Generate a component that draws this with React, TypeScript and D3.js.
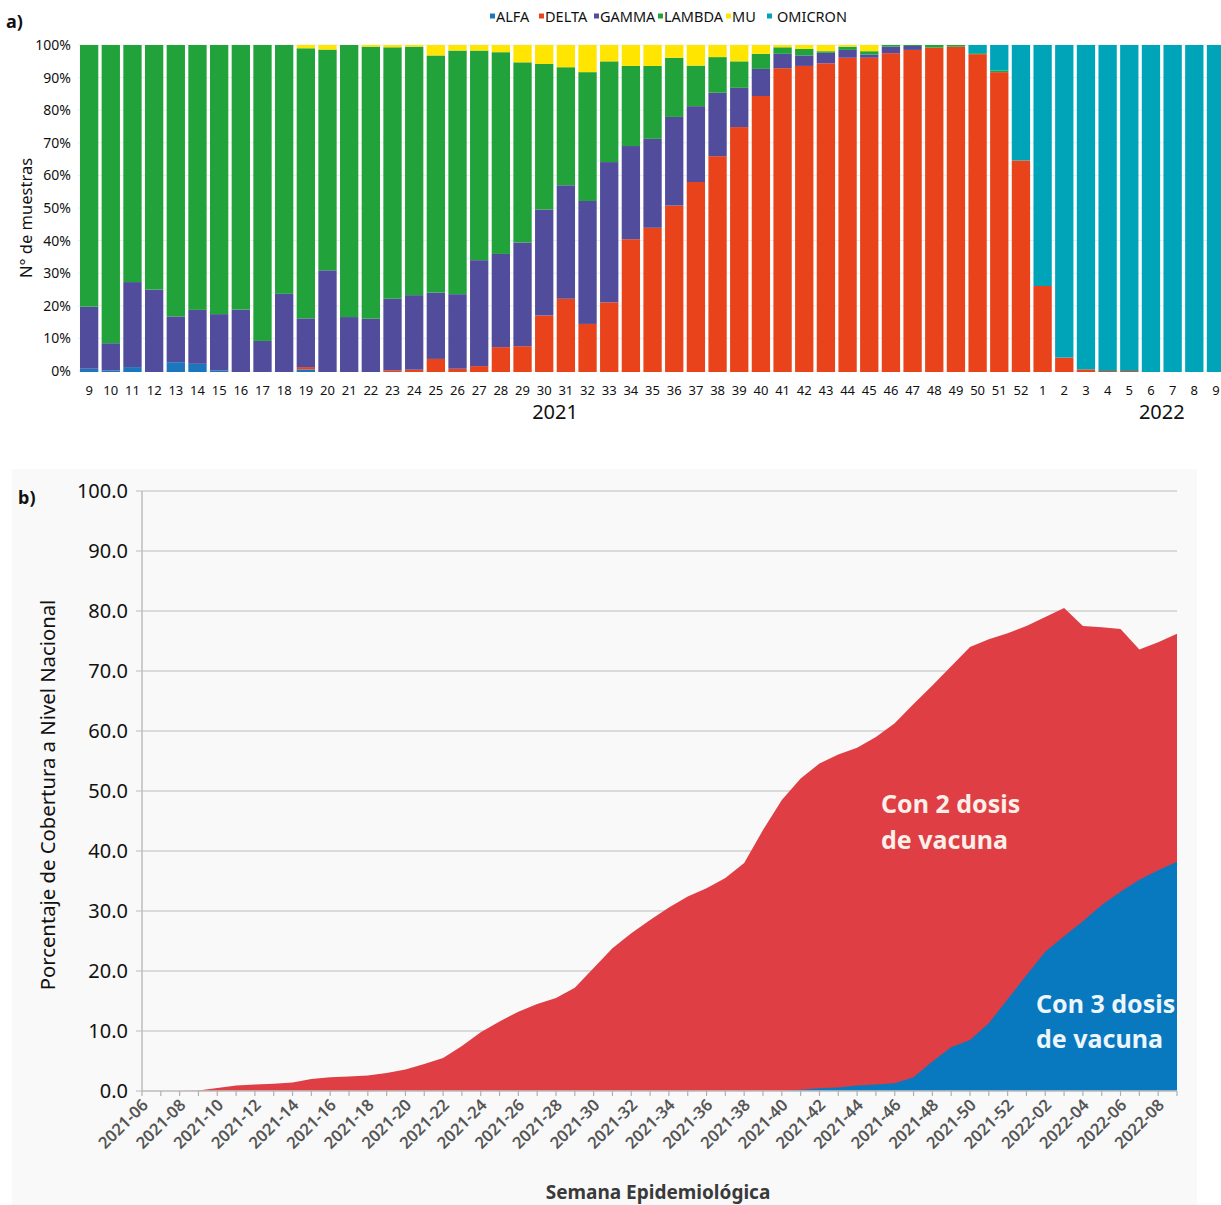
import React from "react";
import * as d3 from "d3";

// ---------- Panel a data ----------
const weekLabelsA = ["9","10","11","12","13","14","15","16","17","18","19","20","21","22","23","24","25","26","27","28","29","30","31","32","33","34","35","36","37","38","39","40","41","42","43","44","45","46","47","48","49","50","51","52","1","2","3","4","5","6","7","8","9"];
const variantKeys = ["ALFA", "DELTA", "GAMMA", "LAMBDA", "MU", "OMICRON"];
const variantColors = ["#1B76BD", "#E8431A", "#524C9C", "#22A23B", "#FFE500", "#00A4B8"];

const alfa = [1,0.5,1.5,0,3,2.5,0.5,0,0,0,0.8,0,0,0,0,0,0,0,0,0,0,0,0,0,0,0,0,0,0,0,0,0,0,0,0,0,0,0,0,0,0,0,0,0,0,0,0,0,0,0,0,0,0];
const delta = [0,0,0,0,0,0,0,0,0,0,0.7,0,0,0,0.5,0.7,4,1,1.8,7.6,7.9,17.3,22.4,14.7,21.3,40.6,44.1,50.9,58.1,66,74.9,84.4,92.9,93.6,94.4,96.1,96.1,97.5,98.5,99.2,99.5,97.2,91.7,64.7,26.3,4.4,0.8,0.3,0.3,0,0,0,0];
const gamma = [19,8.3,26,25.2,14,16.5,17.2,19.1,9.5,23.9,14.9,31.1,16.8,16.3,21.9,22.8,20.3,22.8,32.4,28.5,31.7,32.4,34.7,37.6,42.9,28.5,27.2,27.1,23.2,19.4,12,8.3,4.4,3.2,3.2,2.4,1,2,1.2,0,0,0,0,0,0,0,0,0,0,0,0,0,0];
const lambda = [80,91.2,72.5,74.8,83,81,82.3,80.9,90.5,76.1,82.6,67.5,83.2,83.2,76.9,76,72.5,74.5,64.1,61.7,55.1,44.5,36.1,39.4,30.8,24.5,22.3,18.1,12.4,10.9,8.1,4.6,2,2,0.5,1,1,0.5,0.3,0.8,0.5,0.3,0.5,0,0,0,0,0,0,0,0,0,0];
const mu = [0,0,0,0,0,0,0,0,0,0,1,1.4,0,0.5,0.7,0.5,3.2,1.7,1.7,2.2,5.3,5.8,6.8,8.3,5,6.4,6.4,3.9,6.3,3.7,5,2.7,0.7,1.2,1.9,0.5,1.9,0,0,0,0,0,0,0,0,0,0,0,0,0,0,0,0];
const omicron = [0,0,0,0,0,0,0,0,0,0,0,0,0,0,0,0,0,0,0,0,0,0,0,0,0,0,0,0,0,0,0,0,0,0,0,0,0,0,0,0,0,2.5,7.8,35.3,73.7,95.6,99.2,99.7,99.7,100,100,100,100];
const percentTicksA = [0, 10, 20, 30, 40, 50, 60, 70, 80, 90, 100];
// year label sits between the two bars given by index
const yearLabelsA = [{ label: "2021", between: [21, 22] }, { label: "2022", between: [49, 50] }];

// ---------- Panel b data ----------
const weeksB = ["2021-06","2021-07","2021-08","2021-09","2021-10","2021-11","2021-12","2021-13","2021-14","2021-15","2021-16","2021-17","2021-18","2021-19","2021-20","2021-21","2021-22","2021-23","2021-24","2021-25","2021-26","2021-27","2021-28","2021-29","2021-30","2021-31","2021-32","2021-33","2021-34","2021-35","2021-36","2021-37","2021-38","2021-39","2021-40","2021-41","2021-42","2021-43","2021-44","2021-45","2021-46","2021-47","2021-48","2021-49","2021-50","2021-51","2021-52","2022-01","2022-02","2022-03","2022-04","2022-05","2022-06","2022-07","2022-08","2022-09"];
const dosis2 = [0,0,0,0.1,0.5,0.9,1.1,1.2,1.4,2.0,2.3,2.4,2.6,3.0,3.6,4.5,5.5,7.5,9.8,11.6,13.2,14.5,15.5,17.2,20.5,23.8,26.3,28.5,30.6,32.4,33.8,35.5,38.0,43.5,48.5,52.1,54.6,56.1,57.2,59.0,61.3,64.5,67.6,70.8,74.0,75.3,76.3,77.5,79.0,80.5,77.5,77.3,77.0,73.6,74.8,76.2];
const dosis3 = [null,null,null,null,null,null,null,null,null,null,null,null,null,null,null,null,null,null,null,null,null,null,null,null,null,null,null,null,null,null,null,null,null,null,0,0.2,0.45,0.6,0.9,1.1,1.3,2.3,4.9,7.3,8.5,11.3,15.3,19.3,23.2,25.8,28.3,31,33.2,35.2,36.8,38.2];
const yTicksB = [0, 10, 20, 30, 40, 50, 60, 70, 80, 90, 100];

const FONT = "'Noto Sans', sans-serif";

function PanelA() {
  const rows = weekLabelsA.map((w, i) => ({
    idx: String(i),
    ALFA: alfa[i], DELTA: delta[i], GAMMA: gamma[i], LAMBDA: lambda[i], MU: mu[i], OMICRON: omicron[i],
  }));
  const idxs = rows.map((r) => r.idx);
  const x = d3.scaleBand<string>().domain(idxs).range([78.3, 78.3 + 53 * 21.67]).paddingInner(0.155).paddingOuter(0.0775);
  const y = d3.scaleLinear().domain([0, 1]).range([372, 45]);
  const yp = d3.scaleLinear().domain([0, 100]).range([371, 45]);
  const stack = d3.stack<any>().keys(variantKeys).offset(d3.stackOffsetExpand);
  const series = stack(rows);
  const legendX = [490, 539, 594, 658, 726, 767];
  const legendTextDx = [6, 6, 6, 6, 6, 10];
  const cx = (i: number) => (x(idxs[i]) as number) + x.bandwidth() / 2;
  return (
    <g fontFamily={FONT}>
      <text x={6} y={28} fontSize={18} fontWeight={700} fill="#111">a)</text>
      {variantKeys.map((k, i) => (
        <g key={k}>
          <rect x={legendX[i]} y={13.5} width={5} height={5} fill={variantColors[i]} />
          <text x={legendX[i] + legendTextDx[i]} y={21.5} fontSize={14.5} fill="#111">{k}</text>
        </g>
      ))}
      {percentTicksA.map((t) => (
        <line key={t} x1={78} x2={1221} y1={yp(t)} y2={yp(t)} stroke="#ececec" strokeWidth={1} />
      ))}
      {series.map((s, si) => (
        <g key={s.key} fill={variantColors[si]}>
          {s.map((d, i) => {
            const h = y(d[0]) - y(d[1]);
            if (h <= 0) return null;
            return <rect key={i} x={x(idxs[i])} y={y(d[1])} width={x.bandwidth()} height={h} />;
          })}
        </g>
      ))}
      {percentTicksA.map((t) => (
        <text key={t} x={71} y={yp(t)} dy="0.35em" fontSize={14} textAnchor="end" fill="#111">{t}%</text>
      ))}
      <text transform="translate(32,218) rotate(-90)" fontSize={16.5} textAnchor="middle" fill="#111">N° de muestras</text>
      {weekLabelsA.map((w, i) => (
        <text key={i} x={cx(i)} y={395} fontSize={13} textAnchor="middle" fill="#111">{w}</text>
      ))}
      {yearLabelsA.map((yl) => (
        <text key={yl.label} x={(cx(yl.between[0]) + cx(yl.between[1])) / 2} y={419} fontSize={20} textAnchor="middle" fill="#111">{yl.label}</text>
      ))}
    </g>
  );
}

function PanelB() {
  const x = d3.scalePoint<string>().domain(weeksB).range([142, 1177]);
  const y = d3.scaleLinear().domain([0, 100]).range([1091, 491]);
  const area2 = d3.area<number>()
    .x((_, i) => x(weeksB[i]) as number)
    .y0(y(0))
    .y1((d) => y(d));
  const area3 = d3.area<number | null>()
    .defined((d) => d != null)
    .x((_, i) => x(weeksB[i]) as number)
    .y0(y(0))
    .y1((d) => y(d as number));
  const tickLabels = weeksB.filter((_, i) => i % 2 === 0);
  return (
    <g fontFamily={FONT}>
      <rect x={12} y={469} width={1185} height={736} fill="#f9f9f9" />
      <text x={18} y={504} fontSize={18} fontWeight={700} fill="#111">b)</text>
      {yTicksB.map((t) => (
        <line key={t} x1={136} x2={1177} y1={y(t)} y2={y(t)} stroke="#cfcfcf" strokeWidth={1.6} />
      ))}
      <line x1={142} x2={142} y1={y(100)} y2={y(0)} stroke="#bdbdbd" strokeWidth={1.5} />
      <path d={area2(dosis2) || ""} fill="#DF3E44" />
      <path d={area3(dosis3) || ""} fill="#0879BF" />
      <line x1={142} x2={1177} y1={y(0)} y2={y(0)} stroke="#c4c4c4" strokeWidth={1.5} />
      {weeksB.map((w) => (
        <line key={w} x1={x(w)} x2={x(w)} y1={y(0)} y2={y(0) + 5} stroke="#b0b0b0" strokeWidth={1.2} />
      ))}
      {yTicksB.map((t) => (
        <text key={t} x={128} y={y(t)} dy="0.35em" fontSize={20} textAnchor="end" fill="#111">{t.toFixed(1)}</text>
      ))}
      {tickLabels.map((w) => (
        <text key={w} transform={`translate(${(x(w) as number) + 3},1102) rotate(-45)`} dy="0.35em" fontSize={16.5} fontWeight={600} textAnchor="end" fill="#555">{w}</text>
      ))}
      <text transform="translate(55,795) rotate(-90)" fontSize={20.3} textAnchor="middle" fill="#111">Porcentaje de Cobertura a Nivel Nacional</text>
      <text x={658} y={1199} fontSize={19} fontWeight={700} textAnchor="middle" fill="#3a3a3a">Semana Epidemiológica</text>
      <g fontSize={25} fontWeight={700} fill="#FBEFE9">
        <text x={881} y={813}>Con 2 dosis</text>
        <text x={881} y={849}>de vacuna</text>
      </g>
      <g fontSize={25} fontWeight={700} fill="#EEF5FB">
        <text x={1036} y={1013}>Con 3 dosis</text>
        <text x={1036} y={1048}>de vacuna</text>
      </g>
    </g>
  );
}

export default function App() {
  return (
    <svg width={1221} height={1205} viewBox="0 0 1221 1205" style={{ position: "absolute", left: 0, top: 0, display: "block", background: "#fff" }}>
      <rect x={0} y={0} width={1221} height={1205} fill="#fff" />
      <PanelA />
      <PanelB />
    </svg>
  );
}
